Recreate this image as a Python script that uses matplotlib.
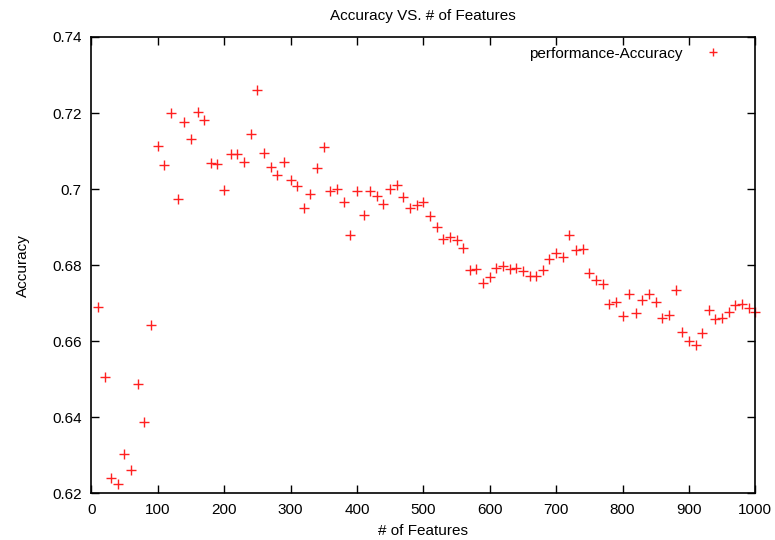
import matplotlib
matplotlib.use("Agg")
from matplotlib import pyplot as plt

plt.rcParams['font.family'] = ['Liberation Sans', 'DejaVu Sans']

# number of features tried, step of 10
features = list(range(10, 1001, 10))

accuracy = [
    0.6690, 0.6507, 0.6239, 0.6224, 0.6303, 0.6262, 0.6488, 0.6388, 0.6642, 0.7113,
    0.7063, 0.7199, 0.6973, 0.7176, 0.7132, 0.7202, 0.7182, 0.7069, 0.7066, 0.6998,
    0.7092, 0.7091, 0.7072, 0.7145, 0.7261, 0.7095, 0.7057, 0.7037, 0.7070, 0.7024,
    0.7009, 0.6950, 0.6987, 0.7055, 0.7111, 0.6994, 0.7000, 0.6966, 0.6880, 0.6996,
    0.6931, 0.6995, 0.6981, 0.6961, 0.7000, 0.7011, 0.6979, 0.6950, 0.6959, 0.6966,
    0.6928, 0.6901, 0.6868, 0.6874, 0.6867, 0.6846, 0.6786, 0.6789, 0.6752, 0.6768,
    0.6793, 0.6797, 0.6789, 0.6793, 0.6784, 0.6772, 0.6771, 0.6787, 0.6816, 0.6833,
    0.6821, 0.6879, 0.6839, 0.6843, 0.6780, 0.6760, 0.6751, 0.6698, 0.6703, 0.6665,
    0.6724, 0.6673, 0.6708, 0.6724, 0.6703, 0.6662, 0.6668, 0.6734, 0.6623, 0.6600,
    0.6589, 0.6622, 0.6682, 0.6659, 0.6662, 0.6677, 0.6694, 0.6697, 0.6688, 0.6676,
]

fig = plt.figure(figsize=(7.75, 5.4), dpi=100)
ax = fig.add_axes([0.1178, 0.0865, 0.8568, 0.845])

ax.plot(features, accuracy, linestyle='none', marker='+', color='#ff2020',
        markersize=7, markeredgewidth=1.0, label='performance-Accuracy',
        clip_on=False)

ax.set_xlim(0, 1000)
ax.set_ylim(0.62, 0.74)
ax.set_xticks(range(0, 1001, 100))
ax.set_yticks([0.62, 0.64, 0.66, 0.68, 0.70, 0.72, 0.74])
ax.set_yticklabels(['0.62', '0.64', '0.66', '0.68', '0.7', '0.72', '0.74'])
ax.tick_params(direction='in', length=6, width=1, top=True, right=True,
               labelsize=11, pad=7)
for s in ax.spines.values():
    s.set_linewidth(1.2)

ax.set_xlabel('# of Features', fontsize=11, labelpad=5)
ax.set_ylabel('Accuracy', fontsize=11, labelpad=16)
ax.set_title('Accuracy VS. # of Features', fontsize=11, pad=12)

ax.legend(loc='upper right', bbox_to_anchor=(0.9593, 0.979), frameon=False,
          markerfirst=False, fontsize=11, handletextpad=0.98, borderpad=0,
          borderaxespad=0, handlelength=2.0, markerscale=0.85)

plt.savefig('out.png', dpi=100)
